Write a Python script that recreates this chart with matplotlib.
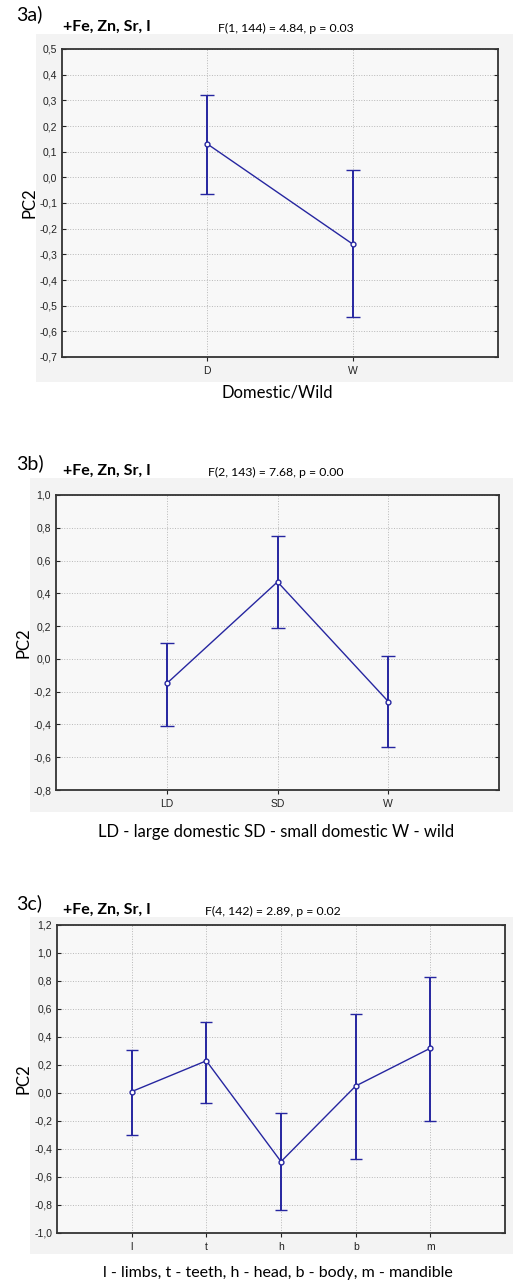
import numpy as np
import matplotlib
matplotlib.use("Agg")
import matplotlib.pyplot as plt
from matplotlib.patches import Rectangle
from matplotlib.ticker import FuncFormatter

# panel a
cats_a = ["D", "W"]
mean_a = [0.13, -0.26]
upper_a = [0.32, 0.03]
lower_a = [-0.065, -0.545]

# panel b
cats_b = ["LD", "SD", "W"]
mean_b = [-0.15, 0.47, -0.26]
upper_b = [0.10, 0.75, 0.02]
lower_b = [-0.41, 0.19, -0.54]

# panel c
cats_c = ["l", "t", "h", "b", "m"]
mean_c = [0.01, 0.23, -0.49, 0.05, 0.32]
upper_c = [0.31, 0.51, -0.14, 0.565, 0.83]
lower_c = [-0.30, -0.07, -0.835, -0.47, -0.20]

W, H = 513, 1285
fig = plt.figure(figsize=(W / 100, H / 100), dpi=100)

line_col = "#2626a0"
cap_font = ["Lato", "DejaVu Sans"]
tick_font = ["Liberation Sans Narrow", "Liberation Sans", "DejaVu Sans"]


def fig_box(x0, y0, x1, y1):
    # pixel box (top-left origin) -> figure fraction
    return [x0 / W, 1 - y1 / H, (x1 - x0) / W, (y1 - y0) / H]


def comma(v, pos):
    v = round(v, 2) + 0.0
    if abs(v) < 1e-9:
        v = 0.0
    return ("%.1f" % v).replace(".", ",")


def panel(bg, ax_px, cats, mean, upper, lower, ylim, ystep, capsize,
          tag, tag_y, stat, stat_x, head_y, caption, cap_y, cap_x, cap_size, ylab_x):
    b = fig_box(*bg)
    fig.patches.append(Rectangle((b[0], b[1]), b[2], b[3], transform=fig.transFigure,
                                 facecolor="#f3f3f3", edgecolor="none", zorder=-5))
    ax = fig.add_axes(fig_box(*ax_px))
    ax.set_facecolor("#f8f8f8")
    n = len(cats)
    x = np.arange(1, n + 1)
    mean = np.array(mean)
    yerr = [mean - np.array(lower), np.array(upper) - mean]
    ax.errorbar(x, mean, yerr=yerr, color=line_col, lw=1.0, elinewidth=1.4,
                capsize=capsize, capthick=1.4, marker="o", ms=3.5,
                mfc="white", mec=line_col, mew=1.0, zorder=3)
    ax.set_xlim(0, n + 1)
    ax.set_ylim(*ylim)
    ax.set_yticks(np.round(np.arange(ylim[0], ylim[1] + 1e-9, ystep), 2))
    ax.yaxis.set_major_formatter(FuncFormatter(comma))
    ax.set_xticks(x)
    ax.set_xticklabels(cats)
    ax.grid(True, ls=":", lw=0.7, color="#b8b8b8")
    ax.set_axisbelow(True)
    for s in ax.spines.values():
        s.set_linewidth(1.3)
        s.set_color("#333333")
    ax.tick_params(axis="both", labelsize=7.5, length=3, width=0.8, colors="#222222")
    ax.tick_params(axis="y", right=True, direction="in")
    for lab in ax.get_xticklabels() + ax.get_yticklabels():
        lab.set_family(tick_font)
    fig.text(ylab_x / W, 1 - (ax_px[1] + ax_px[3]) / 2 / H, "PC2", rotation=90,
             ha="center", va="center", fontsize=12, family=cap_font)
    fig.text(16 / W, 1 - tag_y / H, tag, fontsize=14, ha="left", va="center", family=cap_font)
    fig.text(63 / W, 1 - head_y / H, "+Fe, Zn, Sr, I", fontsize=11.5, fontweight="bold",
             ha="left", va="center", family=cap_font)
    fig.text(stat_x / W, 1 - (head_y + 1) / H, stat, fontsize=8.8, ha="left", va="center",
             family=cap_font)
    fig.text(cap_x / W, 1 - cap_y / H, caption, fontsize=cap_size, ha="center", va="center",
             family=cap_font)
    return ax


panel((36, 34, 513, 382), (62, 49, 498, 357), cats_a, mean_a, upper_a, lower_a,
      (-0.7, 0.5), 0.1, 5, "3a)", 14, "F(1, 144) = 4.84, p = 0.03", 218, 27,
      "Domestic/Wild", 392, 277, 12, 30)

panel((30, 478, 513, 812), (56, 495, 499, 790), cats_b, mean_b, upper_b, lower_b,
      (-0.8, 1.0), 0.2, 5, "3b)", 463, "F(2, 143) = 7.68, p = 0.00", 208, 471,
      "LD - large domestic SD - small domestic W - wild", 832, 276, 12, 24)

panel((30, 917, 513, 1254), (57, 925, 505, 1233), cats_c, mean_c, upper_c, lower_c,
      (-1.0, 1.2), 0.2, 4, "3c)", 903, "F(4, 142) = 2.89, p = 0.02", 205, 910,
      "l - limbs, t - teeth, h - head, b - body, m - mandible", 1273, 278, 11.5, 24)

plt.savefig("out.png", dpi=100)
